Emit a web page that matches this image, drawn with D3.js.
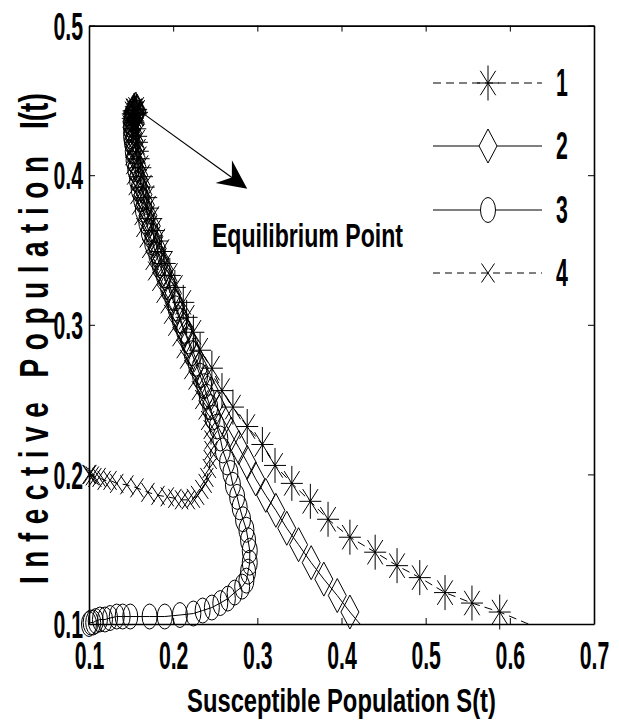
<!DOCTYPE html>
<html>
<head>
<meta charset="utf-8">
<script src="https://cdn.jsdelivr.net/npm/d3@7"></script>
<style>
  body { margin: 0; background: #fff; }
</style>
</head>
<body>
<div class="canvas"></div>
<script>
/////////////////////////////////
//** DATA **//

const xTicks = [0.1, 0.2, 0.3, 0.4, 0.5, 0.6, 0.7];
const yTicks = [0.1, 0.2, 0.3, 0.4, 0.5];
const legendLabels = ['1', '2', '3', '4'];

// [S, I] pairs
const s1Start = [0.622, 0.100];
const s1 = [
  [0.588, 0.108], [0.555, 0.114], [0.523, 0.121], [0.493, 0.131], [0.466, 0.139],
  [0.440, 0.148], [0.410, 0.158], [0.384, 0.170], [0.363, 0.182], [0.341, 0.194],
  [0.321, 0.206], [0.306, 0.220], [0.288, 0.232], [0.271, 0.245], [0.258, 0.256],
  [0.246, 0.271], [0.232, 0.283], [0.224, 0.295], [0.216, 0.305], [0.212, 0.315],
  [0.202, 0.325], [0.196, 0.333], [0.190, 0.341], [0.186, 0.349], [0.181, 0.356],
  [0.177, 0.363], [0.174, 0.371], [0.170, 0.378], [0.168, 0.385], [0.165, 0.392],
  [0.163, 0.399], [0.161, 0.405], [0.159, 0.411], [0.158, 0.416], [0.157, 0.422],
  [0.156, 0.426], [0.155, 0.431], [0.153, 0.435], [0.152, 0.438], [0.152, 0.441],
  [0.153, 0.443], [0.156, 0.444], [0.157, 0.442], [0.156, 0.441], [0.155, 0.441],
  [0.154, 0.443]
];

const s2Start = [0.422, 0.100];
const s2 = [
  [0.410, 0.108], [0.395, 0.119], [0.379, 0.130], [0.364, 0.141], [0.349, 0.153],
  [0.335, 0.164], [0.322, 0.176], [0.310, 0.186], [0.298, 0.197], [0.288, 0.208],
  [0.278, 0.218], [0.269, 0.227], [0.260, 0.236], [0.252, 0.245], [0.245, 0.254],
  [0.238, 0.262], [0.231, 0.271], [0.225, 0.280], [0.219, 0.289], [0.213, 0.297],
  [0.208, 0.305], [0.203, 0.313], [0.199, 0.321], [0.194, 0.329], [0.189, 0.337],
  [0.184, 0.344], [0.181, 0.351], [0.177, 0.359], [0.174, 0.366], [0.170, 0.373],
  [0.167, 0.380], [0.164, 0.387], [0.162, 0.393], [0.159, 0.400], [0.157, 0.406],
  [0.156, 0.412], [0.155, 0.418], [0.153, 0.423], [0.152, 0.428], [0.151, 0.432],
  [0.151, 0.436], [0.151, 0.440], [0.152, 0.442], [0.155, 0.444], [0.157, 0.443],
  [0.157, 0.442], [0.155, 0.441], [0.153, 0.442]
];

const s3 = [
  [0.100, 0.100], [0.102, 0.101], [0.105, 0.101], [0.108, 0.102], [0.113, 0.103],
  [0.119, 0.103], [0.125, 0.104], [0.133, 0.105], [0.140, 0.105], [0.149, 0.105],
  [0.172, 0.105], [0.190, 0.105], [0.208, 0.106], [0.224, 0.107], [0.235, 0.109],
  [0.246, 0.111], [0.256, 0.114], [0.265, 0.117], [0.273, 0.121], [0.282, 0.125],
  [0.287, 0.129], [0.289, 0.135], [0.291, 0.141], [0.291, 0.149], [0.289, 0.156],
  [0.287, 0.163], [0.283, 0.170], [0.279, 0.178], [0.276, 0.185], [0.271, 0.193],
  [0.268, 0.201], [0.264, 0.208], [0.259, 0.216], [0.256, 0.224], [0.252, 0.232],
  [0.247, 0.238], [0.244, 0.245], [0.240, 0.252], [0.237, 0.259], [0.232, 0.266],
  [0.227, 0.274], [0.222, 0.281], [0.218, 0.289], [0.213, 0.296], [0.208, 0.303],
  [0.203, 0.311], [0.199, 0.318], [0.194, 0.325], [0.189, 0.333], [0.184, 0.340],
  [0.180, 0.347], [0.175, 0.355], [0.171, 0.362], [0.168, 0.369], [0.164, 0.377],
  [0.162, 0.384], [0.159, 0.391], [0.157, 0.397], [0.155, 0.404], [0.153, 0.410],
  [0.152, 0.416], [0.151, 0.422], [0.150, 0.426], [0.150, 0.431], [0.150, 0.435],
  [0.151, 0.438], [0.152, 0.441], [0.155, 0.442], [0.156, 0.442]
];

const s4 = [
  [0.100, 0.200], [0.101, 0.200], [0.104, 0.199], [0.107, 0.198], [0.112, 0.198],
  [0.118, 0.196], [0.125, 0.196], [0.133, 0.194], [0.145, 0.193], [0.157, 0.191],
  [0.170, 0.188], [0.182, 0.186], [0.193, 0.185], [0.202, 0.184], [0.210, 0.183],
  [0.218, 0.183], [0.224, 0.184], [0.229, 0.186], [0.234, 0.190], [0.238, 0.194],
  [0.240, 0.198], [0.243, 0.204], [0.244, 0.210], [0.245, 0.216], [0.245, 0.223],
  [0.244, 0.230], [0.241, 0.236], [0.238, 0.243], [0.234, 0.250], [0.230, 0.256],
  [0.226, 0.263], [0.221, 0.270], [0.216, 0.277], [0.212, 0.284], [0.207, 0.292],
  [0.202, 0.299], [0.197, 0.307], [0.193, 0.314], [0.188, 0.321], [0.183, 0.329],
  [0.178, 0.336], [0.175, 0.343], [0.171, 0.351], [0.168, 0.358], [0.164, 0.365],
  [0.162, 0.373], [0.159, 0.380], [0.157, 0.387], [0.155, 0.393], [0.153, 0.400],
  [0.152, 0.407], [0.151, 0.413], [0.151, 0.418], [0.151, 0.424], [0.151, 0.428],
  [0.151, 0.432], [0.152, 0.436], [0.152, 0.440], [0.153, 0.442], [0.156, 0.443]
];

// annotation anchors, in data units
const arrowFrom = [0.165, 0.441];
const arrowTo = [0.288, 0.391];
const eqLabel = [0.246, 0.352];

/////////////////////////////////
//** DIMENSIONS **//

const dims = { width: 619, height: 728 };
const plot = { left: 89, right: 594, top: 25.6, bottom: 624 };
const font = "'Liberation Sans', Arial, sans-serif";
const squeeze = 0.56; // the picture's lettering is very narrow

const svg = d3.select('.canvas')
  .append('svg')
  .attr('width', dims.width)
  .attr('height', dims.height)
  .style('display', 'block');

const x = d3.scaleLinear().domain([0.1, 0.7]).range([plot.left, plot.right]);
const y = d3.scaleLinear().domain([0.1, 0.5]).range([plot.bottom, plot.top]);

/////////////////////////////////
//** AXES (boxed, ticks inside) **//

const fmt = d3.format('.1f');

const styleAxis = g => {
  g.select('.domain').attr('stroke', '#000').attr('stroke-width', 1.6);
  g.selectAll('.tick line').attr('stroke', '#000').attr('stroke-width', 1);
};

const bottomAxis = svg.append('g')
  .attr('transform', `translate(0,${plot.bottom})`)
  .call(d3.axisBottom(x).tickValues(xTicks).tickSizeInner(-6).tickSizeOuter(0).tickFormat(fmt))
  .call(styleAxis);
bottomAxis.selectAll('text')
  .attr('y', 45).attr('dy', null)
  .attr('font-family', font).attr('font-size', 38).attr('font-weight', 'bold')
  .attr('fill', '#000')
  .attr('transform', `scale(${squeeze},1)`);

const leftAxis = svg.append('g')
  .attr('transform', `translate(${plot.left},0)`)
  .call(d3.axisLeft(y).tickValues(yTicks).tickSizeInner(-6).tickSizeOuter(0).tickFormat(fmt))
  .call(styleAxis);
leftAxis.selectAll('text')
  .attr('x', -6 / squeeze).attr('dy', '0.36em')
  .attr('font-family', font).attr('font-size', 38).attr('font-weight', 'bold')
  .attr('fill', '#000')
  .attr('transform', `scale(${squeeze},1)`);

svg.append('g')
  .attr('transform', `translate(0,${plot.top})`)
  .call(d3.axisTop(x).tickValues(xTicks).tickSizeInner(-6).tickSizeOuter(0).tickFormat(''))
  .call(styleAxis);

svg.append('g')
  .attr('transform', `translate(${plot.right},0)`)
  .call(d3.axisRight(y).tickValues(yTicks).tickSizeInner(-6).tickSizeOuter(0).tickFormat(''))
  .call(styleAxis);

/////////////////////////////////
//** MARKERS **//

// marker shapes, stretched taller than wide like the picture
const markers = {
  asterisk: { w: 22, h: 35, d: (w, h) => {
    const a = w / 2 * 0.7, b = h / 2 * 0.7;
    return `M0,${-h / 2}V${h / 2}M${-w / 2},0H${w / 2}M${-a},${-b}L${a},${b}M${-a},${b}L${a},${-b}`;
  } },
  diamond: { w: 18, h: 34, d: (w, h) => `M0,${-h / 2}L${w / 2},0L0,${h / 2}L${-w / 2},0Z` },
  circle: { w: 15, h: 25, d: (w, h) => {
    const rx = w / 2, ry = h / 2;
    return `M${-rx},0A${rx},${ry} 0 1,0 ${rx},0A${rx},${ry} 0 1,0 ${-rx},0Z`;
  } },
  cross: { w: 13, h: 19, d: (w, h) => `M${-w / 2},${-h / 2}L${w / 2},${h / 2}M${-w / 2},${h / 2}L${w / 2},${-h / 2}` }
};

const series = [
  { name: legendLabels[0], start: s1Start, pts: s1, marker: 'asterisk', dash: '8,5' },
  { name: legendLabels[1], start: s2Start, pts: s2, marker: 'diamond', dash: null },
  { name: legendLabels[2], start: null, pts: s3, marker: 'circle', dash: null },
  { name: legendLabels[3], start: null, pts: s4, marker: 'cross', dash: '7,5' }
];

const line = d3.line().x(d => x(d[0])).y(d => y(d[1]));

series.forEach(s => {
  const g = svg.append('g');
  const linePts = s.start ? [s.start, ...s.pts] : s.pts;
  g.append('path')
    .attr('d', line(linePts))
    .attr('fill', 'none')
    .attr('stroke', '#000')
    .attr('stroke-width', 1)
    .attr('stroke-dasharray', s.dash);

  const m = markers[s.marker];
  g.selectAll('path.mk')
    .data(s.pts)
    .enter()
    .append('path')
    .attr('class', 'mk')
    .attr('d', m.d(m.w, m.h))
    .attr('transform', d => `translate(${x(d[0])},${y(d[1])})`)
    .attr('fill', 'none')
    .attr('stroke', '#000')
    .attr('stroke-width', 1);
});

/////////////////////////////////
//** LEGEND **//

const legendRows = [83, 146, 210, 273];
const legend = svg.append('g');
series.forEach((s, i) => {
  const ry = legendRows[i];
  legend.append('line')
    .attr('x1', 433).attr('x2', 542).attr('y1', ry).attr('y2', ry)
    .attr('stroke', '#000').attr('stroke-width', 1)
    .attr('stroke-dasharray', s.dash);
  const m = markers[s.marker];
  legend.append('path')
    .attr('d', m.d(m.w, m.h))
    .attr('transform', `translate(488,${ry})`)
    .attr('fill', '#fff')
    .attr('stroke', '#000')
    .attr('stroke-width', 1);
  legend.append('text')
    .attr('transform', `translate(556,${ry + 13}) scale(${squeeze},1)`)
    .attr('font-family', font).attr('font-size', 38).attr('font-weight', 'bold')
    .text(s.name);
});

/////////////////////////////////
//** ANNOTATION **//

const ax0 = x(arrowFrom[0]), ay0 = y(arrowFrom[1]);
const ax1 = x(arrowTo[0]), ay1 = y(arrowTo[1]);
const len = Math.hypot(ax1 - ax0, ay1 - ay0);
const ux = (ax1 - ax0) / len, uy = (ay1 - ay0) / len;
const headLen = 29, headHalf = 14, notch = 10;
const bx = ax1 - ux * headLen, by = ay1 - uy * headLen;

svg.append('line')
  .attr('x1', ax0).attr('y1', ay0)
  .attr('x2', bx + ux * notch).attr('y2', by + uy * notch)
  .attr('stroke', '#000').attr('stroke-width', 1.2);

svg.append('path')
  .attr('d', `M${ax1},${ay1}L${bx - uy * headHalf},${by + ux * headHalf}` +
    `L${bx + ux * notch},${by + uy * notch}L${bx + uy * headHalf},${by - ux * headHalf}Z`)
  .attr('fill', '#000');

svg.append('text')
  .attr('transform', `translate(${x(eqLabel[0])},${y(eqLabel[1])}) scale(0.7,1)`)
  .attr('font-family', font).attr('font-size', 33).attr('font-weight', 'bold')
  .text('Equilibrium Point');

/////////////////////////////////
//** AXIS TITLES **//

svg.append('text')
  .attr('transform', `translate(${(plot.left + plot.right) / 2},712) scale(0.72,1)`)
  .attr('text-anchor', 'middle')
  .attr('font-family', font).attr('font-size', 33).attr('font-weight', 'bold')
  .text('Susceptible Population S(t)');

svg.append('text')
  .attr('transform', `translate(48,584) rotate(-90) scale(0.7,1)`)
  .attr('font-family', font).attr('font-size', 40).attr('font-weight', 'bold')
  .attr('textLength', 428 / 0.7)
  .attr('lengthAdjust', 'spacing')
  .text('Infective Population');

svg.append('text')
  .attr('transform', `translate(48,129) rotate(-90) scale(0.7,1)`)
  .attr('font-family', font).attr('font-size', 40).attr('font-weight', 'bold')
  .text('I(t)');
</script>
</body>
</html>
